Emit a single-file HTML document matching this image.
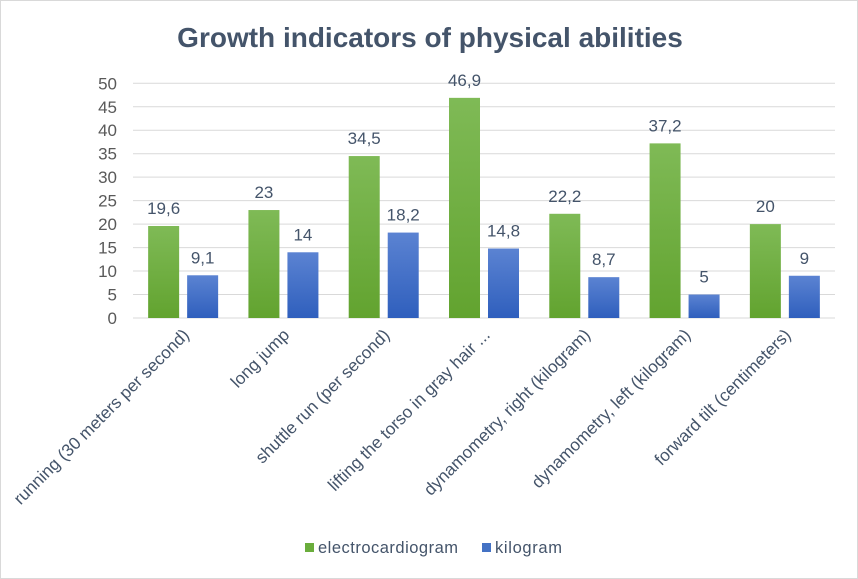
<!DOCTYPE html>
<html><head><meta charset="utf-8"><style>
body{margin:0;background:#fff}
svg{display:block;font-family:"Liberation Sans",sans-serif}
</style></head><body>
<svg id="c" width="858" height="579">
<rect x="0.5" y="0.5" width="857" height="578" fill="#fff" stroke="#d9d9d9"/>
<defs>
<linearGradient id="gg" x1="0" y1="0" x2="0" y2="1"><stop offset="0" stop-color="#7fba56"/><stop offset="1" stop-color="#62a32f"/></linearGradient>
<linearGradient id="gb" x1="0" y1="0" x2="0" y2="1"><stop offset="0" stop-color="#5b83d2"/><stop offset="1" stop-color="#2f5fbd"/></linearGradient>
</defs>
<text x="430" y="47" text-anchor="middle" font-size="28" font-weight="bold" fill="#44546a">Growth indicators of physical abilities</text>
<g id="grid"></g><g id="bars"></g><g id="labels"></g>
<g>
<rect x="305" y="543" width="9" height="9" fill="#6aad3c"/>
<text x="318" y="553" font-size="16.5" fill="#44546a" textLength="140">electrocardiogram</text>
<rect x="482" y="543" width="9" height="9" fill="#4472c4"/>
<text x="495" y="553" font-size="16.5" fill="#44546a" textLength="67">kilogram</text>
</g>
</svg>
<script>
const categories=["running (30 meters per second)","long jump","shuttle run (per second)","lifting the torso in gray hair ...","dynamometry, right (kilogram)","dynamometry, left (kilogram)","forward tilt (centimeters)"];
const ecg=[19.6,23,34.5,46.9,22.2,37.2,20];
const kg=[9.1,14,18.2,14.8,8.7,5,9];
const ticks=[0,5,10,15,20,25,30,35,40,45,50];
const NS="http://www.w3.org/2000/svg";
const L=133,R=835,T=83.3,B=318,MAX=50;
const y=v=>B-(v/MAX)*(B-T);
const cw=(R-L)/categories.length;
const cx=i=>L+cw*(i+0.5);
function mk(t,a,p,txt){const e=document.createElementNS(NS,t);for(const k in a)e.setAttribute(k,a[k]);if(txt!==undefined)e.textContent=txt;p.appendChild(e);return e;}
const grid=document.getElementById('grid'),bars=document.getElementById('bars'),labels=document.getElementById('labels');
ticks.forEach(t=>{
 const ln=mk('line',{x1:L,x2:R,y1:y(t),y2:y(t),stroke:'#d9d9d9','stroke-width':1},grid);
 
 
 const tx=mk('text',{x:117,y:y(t)+6,'text-anchor':'end','font-size':17,fill:'#595959'},grid,String(t));
 
 
});
const fmt=v=>String(v).replace('.',',');
categories.forEach((c,i)=>{
 const c0=cx(i);
 [[ecg[i],c0-35,'url(#gg)','ecg'],[kg[i],c0+4,'url(#gb)','kg']].forEach(([v,x,f,s])=>{
  const r=mk('rect',{x:x,y:y(v),width:31,height:B-y(v),fill:f},bars);
  
  
  const t=mk('text',{x:x+15.5,y:y(v)-12,'text-anchor':'middle','font-size':17,fill:'#44546a'},bars,fmt(v));
  
  
 });
 const lb=mk('text',{x:c0+7,y:336,'text-anchor':'end','font-size':17.2,fill:'#44546a',transform:`rotate(-45 ${c0+7} 336)`},labels,c);
 
 
});
</script>
</body></html>
